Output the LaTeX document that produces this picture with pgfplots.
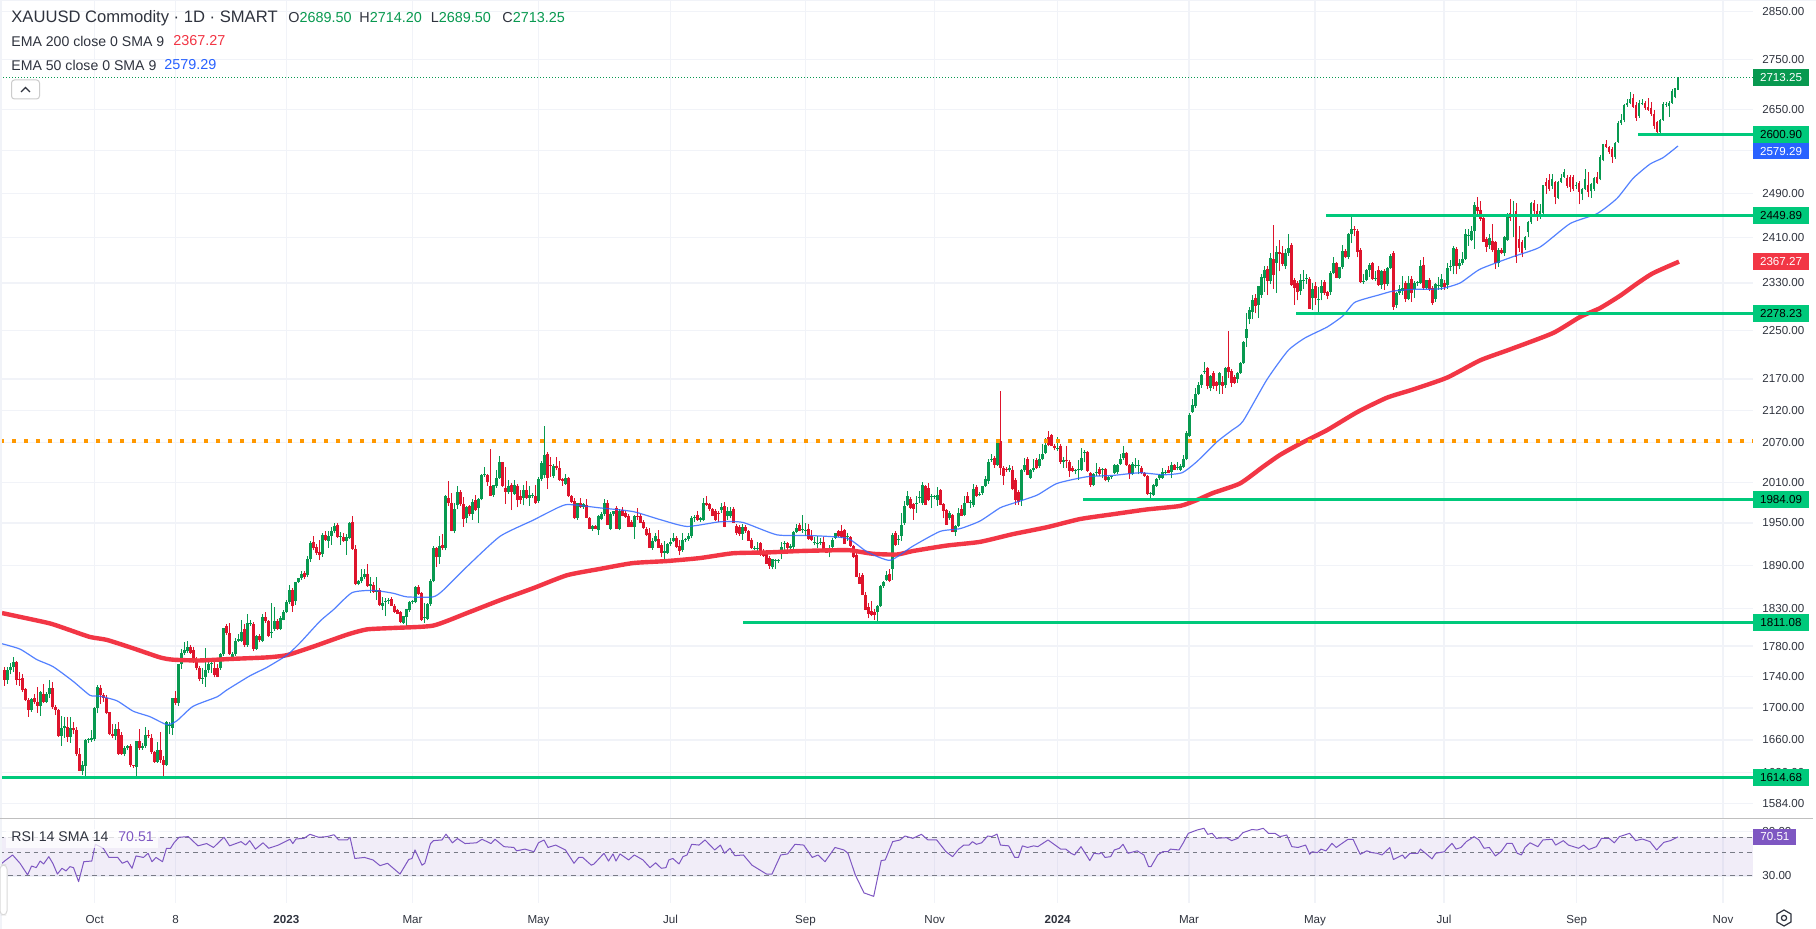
\documentclass[border=0pt]{standalone}
\usepackage{fontspec}
\setmainfont{Liberation Sans}
\usepackage{pgfplots}
\usepackage{pgfplotstable}
\pgfplotsset{compat=1.18}
\definecolor{cg}{HTML}{089950}
\definecolor{cr}{HTML}{DE142C}
\definecolor{ema2}{HTML}{F23645}
\definecolor{ema5}{HTML}{2962FF}
\definecolor{lev}{HTML}{00C97B}
\definecolor{org}{HTML}{FF9800}
\definecolor{gridc}{HTML}{F1F3F8}
\definecolor{txt}{HTML}{2F333E}
\definecolor{rsi}{HTML}{7E57C2}
\definecolor{dsh}{HTML}{787B86}

\pgfplotstableread{
o h l c
1748 1752 1728 1736
1736 1753 1731 1749
1749 1758 1743 1753
1753 1765 1746 1759
1759 1760 1729 1736
1737 1746 1728 1736
1738 1743 1720 1723
1724 1726 1709 1710
1710 1712 1689 1697
1697 1713 1695 1711
1712 1717 1705 1707
1708 1727 1694 1702
1702 1722 1690 1720
1718 1730 1706 1708
1708 1720 1706 1717
1717 1736 1713 1725
1725 1733 1699 1701
1701 1704 1691 1698
1698 1699 1664 1665
1665 1690 1653 1675
1675 1689 1663 1677
1676 1689 1658 1664
1664 1689 1657 1675
1675 1682 1668 1672
1672 1676 1641 1643
1643 1650 1622 1622
1622 1634 1618 1630
1628 1661 1616 1660
1660 1662 1657 1661
1660 1672 1658 1662
1661 1701 1659 1700
1700 1729 1693 1727
1726 1729 1705 1716
1716 1719 1708 1712
1713 1716 1692 1694
1695 1695 1666 1668
1668 1680 1662 1665
1665 1680 1660 1673
1673 1682 1642 1643
1666 1670 1642 1643
1643 1652 1640 1650
1650 1654 1648 1652
1653 1655 1627 1629
1629 1630 1626 1628
1627 1659 1616 1659
1659 1673 1648 1650
1650 1656 1648 1653
1653 1676 1650 1666
1666 1672 1662 1665
1663 1668 1643 1645
1645 1646 1632 1633
1633 1658 1632 1648
1648 1670 1632 1635
1636 1640 1616 1630
1629 1683 1628 1682
1677 1682 1667 1678
1675 1712 1666 1712
1712 1722 1704 1706
1706 1756 1702 1756
1756 1776 1750 1771
1771 1785 1768 1775
1774 1786 1771 1779
1779 1782 1770 1771
1775 1779 1758 1760
1760 1765 1748 1751
1751 1754 1734 1737
1737 1751 1731 1738
1740 1777 1727 1749
1749 1760 1745 1756
1756 1762 1745 1757
1751 1762 1739 1742
1751 1756 1739 1740
1751 1771 1749 1769
1769 1804 1767 1804
1806 1809 1795 1797
1797 1810 1768 1769
1766 1772 1764 1769
1769 1790 1767 1787
1787 1796 1785 1789
1787 1815 1785 1798
1802 1809 1779 1781
1781 1823 1779 1810
1810 1815 1807 1811
1809 1812 1773 1776
1776 1795 1775 1793
1793 1796 1785 1788
1787 1822 1785 1819
1819 1825 1811 1813
1813 1815 1792 1793
1798 1837 1790 1799
1803 1832 1800 1813
1813 1816 1801 1803
1803 1820 1801 1817
1815 1828 1814 1826
1826 1842 1824 1839
1839 1863 1836 1856
1856 1859 1826 1833
1840 1866 1835 1867
1867 1872 1865 1872
1872 1882 1870 1878
1879 1882 1871 1873
}\tA

\pgfplotstableread{
o h l c
1876 1903 1873 1898
1898 1925 1895 1921
1922 1932 1911 1914
1916 1920 1905 1908
1909 1926 1897 1904
1906 1936 1902 1933
1933 1939 1925 1926
1925 1938 1914 1932
1932 1944 1919 1938
1938 1950 1935 1946
1948 1950 1929 1930
1930 1937 1919 1931
1930 1936 1923 1924
1924 1934 1905 1930
1929 1951 1927 1950
1951 1960 1912 1913
1913 1919 1862 1864
1864 1870 1862 1868
1868 1885 1865 1874
1873 1884 1871 1877
1878 1892 1860 1861
1861 1873 1852 1864
1863 1866 1852 1853
1853 1873 1842 1856
1855 1858 1834 1835
1834 1846 1828 1837
1840 1844 1820 1841
1841 1844 1836 1842
1843 1846 1833 1834
1834 1836 1824 1825
1828 1830 1822 1823
1825 1827 1810 1812
1811 1820 1809 1820
1819 1830 1807 1830
1828 1841 1826 1839
1840 1842 1836 1841
1839 1861 1837 1860
1860 1863 1849 1850
1851 1853 1813 1814
1817 1837 1811 1818
1816 1838 1814 1836
1836 1871 1834 1868
}\tB

\pgfplotstableread{
o h l c
1868 1917 1866 1915
1914 1916 1888 1901
1901 1932 1892 1917
1919 1934 1912 1914
1914 1992 1911 1990
1987 2012 1975 1980
1980 1994 1938 1939
1939 1980 1935 1970
1976 2005 1970 1995
1995 1998 1975 1978
1978 1988 1945 1956
1958 1975 1950 1973
1975 1977 1960 1963
1963 1985 1955 1981
1983 1992 1968 1969
1972 1987 1950 1985
1985 2022 1983 2021
2021 2033 2018 2022
2021 2022 2005 2010
2004 2060 1990 1990
1991 2006 1988 2006
2004 2029 2002 2017
2017 2050 2015 2040
2040 2041 2003 2004
2002 2033 1978 1995
1995 2013 1993 2004
2006 2009 1969 1995
1993 2013 1991 2006
2005 2007 1973 1983
1990 1999 1978 1983
1987 2006 1976 1999
1998 2011 1985 1987
1987 2005 1975 1992
1990 1994 1986 1991
1990 2006 1978 1980
1982 2018 1980 2015
2015 2042 2012 2039
2021 2095 2017 2051
2052 2056 2000 2017
2036 2048 2018 2034
2020 2038 2016 2035
2035 2048 2028 2031
2031 2042 2012 2014
2015 2017 2005 2011
2008 2023 2006 2017
2017 2018 1988 1989
1990 1992 1980 1981
1982 1986 1956 1957
1957 1980 1955 1979
1979 1987 1972 1973
1973 1980 1971 1978
1977 1985 1957 1958
1958 1959 1941 1942
1942 1947 1939 1946
1946 1948 1941 1942
1940 1962 1933 1961
1956 1966 1954 1964
1964 1985 1961 1979
1979 1983 1948 1948
1942 1966 1940 1963
1963 1968 1961 1967
1972 1975 1942 1942
1942 1970 1940 1967
1969 1973 1960 1961
1965 1968 1958 1959
1961 1963 1944 1945
1952 1955 1944 1945
1945 1962 1927 1960
1961 1972 1955 1960
1961 1964 1950 1950
1951 1955 1942 1943
1941 1944 1931 1933
1935 1943 1915 1915
1915 1929 1912 1925
1925 1935 1922 1931
1927 1940 1914 1914
}\tC

\pgfplotstableread{
o h l c
1919 1921 1901 1908
1908 1924 1893 1910
1908 1921 1906 1920
1920 1929 1917 1922
1924 1935 1922 1929
1928 1931 1915 1916
1917 1926 1904 1910
1911 1935 1909 1926
1926 1929 1922 1927
1927 1935 1925 1931
1931 1960 1928 1958
1958 1962 1952 1959
1962 1968 1953 1955
1955 1959 1951 1957
1955 1986 1953 1980
1980 1990 1975 1977
1978 1980 1968 1970
1970 1972 1960 1961
1968 1970 1953 1954
1965 1968 1952 1964
1969 1980 1965 1973
1975 1981 1944 1944
1960 1973 1955 1967
1960 1973 1957 1967
1971 1973 1950 1950
1946 1949 1933 1935
1944 1948 1932 1934
1934 1949 1926 1944
1944 1947 1936 1938
1938 1940 1925 1925
1926 1928 1913 1914
1914 1917 1912 1915
1913 1923 1910 1914
1921 1923 1903 1905
1910 1913 1902 1903
1910 1912 1892 1892
1900 1903 1885 1889
1887 1899 1884 1898
1896 1899 1885 1897
1896 1898 1893 1897
1906 1922 1898 1916
1920 1925 1910 1921
1921 1923 1906 1914
1914 1920 1910 1917
1916 1938 1910 1937
1937 1949 1935 1943
1948 1950 1938 1939
1940 1962 1936 1941
1939 1950 1932 1940
1942 1949 1926 1927
1932 1940 1925 1926
1922 1930 1918 1923
1920 1931 1914 1921
1921 1929 1918 1922
1922 1930 1910 1911
1912 1914 1907 1908
1911 1918 1901 1912
1916 1928 1913 1926
1929 1936 1927 1935
1938 1940 1930 1931
1938 1947 1929 1930
1940 1942 1920 1920
1930 1936 1924 1931
1930 1932 1916 1917
1917 1919 1900 1901
1905 1908 1873 1873
1874 1879 1864 1864
1876 1879 1848 1848
1848 1853 1828 1828
1832 1838 1817 1823
1827 1841 1820 1821
1826 1829 1815 1821
1826 1835 1811 1834
1834 1862 1832 1861
1861 1868 1859 1866
1870 1882 1868 1876
1877 1885 1866 1868
1885 1935 1870 1933
1936 1938 1917 1919
}\tD

\pgfplotstableread{
o h l c
1926 1933 1919 1927
1931 1965 1925 1948
1950 1982 1948 1975
1977 1997 1975 1989
1985 1988 1971 1972
1978 1980 1955 1971
1978 1989 1965 1979
1987 1997 1980 1988
1979 2010 1977 2006
2004 2006 1976 1977
2001 2009 1982 1983
1988 1993 1972 1989
1989 1991 1985 1990
1984 2003 1975 1992
1998 2000 1976 1977
1978 1980 1957 1968
1969 1971 1948 1948
1957 1968 1955 1965
1962 1964 1937 1937
1937 1947 1932 1946
1946 1972 1944 1965
1970 1977 1961 1961
1962 1990 1960 1980
1989 1995 1979 1980
1980 1983 1972 1981
1977 2007 1974 2000
2003 2006 1988 1990
1992 1996 1989 1993
1994 2005 1992 2004
2005 2020 2003 2015
2011 2045 2008 2041
2044 2052 2041 2045
2047 2049 2032 2036
2036 2072 2034 2072
2072 2150 2021 2031
2031 2035 2006 2019
2030 2033 2026 2028
2028 2036 2026 2032
2029 2035 1998 2000
2013 2016 1977 1984
1996 1998 1977 1981
1984 2030 1975 2028
2028 2046 2026 2036
2045 2048 2021 2021
2017 2030 2015 2028
2028 2045 2026 2032
2043 2046 2030 2032
2034 2053 2032 2045
2045 2067 2043 2053
2054 2077 2052 2066
2078 2088 2064 2066
2081 2083 2064 2065
2065 2068 2058 2061
2061 2078 2057 2062
2065 2067 2038 2041
2041 2048 2031 2043
2044 2065 2031 2042
2041 2043 2018 2027
2031 2034 2026 2027
2027 2030 2022 2028
2028 2044 2014 2030
2029 2061 2027 2047
2054 2058 2040 2055
2055 2057 2026 2027
2024 2026 2003 2006
2006 2024 2004 2022
2024 2039 2020 2025
2030 2033 2020 2022
2029 2032 2016 2030
2030 2032 2011 2014
2013 2020 2010 2018
2018 2020 2015 2019
2024 2038 2022 2036
2025 2038 2023 2036
2038 2053 2036 2045
2046 2065 2044 2054
2054 2056 2035 2036
2036 2038 2015 2023
2023 2040 2021 2037
2035 2046 2032 2036
2035 2044 2022 2036
2032 2035 2022 2024
2024 2026 2018 2019
2019 2021 1992 1993
1993 1996 1983 1994
1991 2008 1990 2006
2005 2016 2003 2015
2016 2022 2014 2021
2017 2032 2015 2025
2025 2028 2022 2026
2028 2035 2024 2024
2026 2041 2016 2036
2036 2038 2029 2029
2032 2040 2028 2033
2029 2037 2027 2034
2033 2051 2031 2045
2045 2088 2043 2085
2080 2116 2078 2113
2118 2138 2116 2128
2126 2155 2124 2146
2146 2165 2144 2160
2160 2178 2156 2176
}\tE

\pgfplotstableread{
o h l c
2182 2197 2178 2183
2187 2190 2153 2158
2156 2177 2150 2175
2179 2182 2154 2158
2165 2167 2150 2158
2160 2181 2146 2179
2165 2175 2146 2158
2161 2190 2156 2187
2189 2248 2172 2181
2182 2186 2157 2164
2173 2176 2162 2164
2170 2181 2163 2180
2180 2198 2178 2196
2196 2232 2194 2231
2237 2278 2222 2252
2269 2289 2260 2283
2281 2310 2268 2300
2305 2311 2278 2290
2293 2325 2270 2324
2310 2345 2305 2340
2338 2360 2315 2352
2354 2360 2310 2333
2333 2382 2328 2373
2371 2432 2320 2344
2365 2395 2313 2384
2384 2405 2350 2381
2382 2395 2360 2363
2359 2390 2355 2382
2382 2417 2378 2391
2397 2400 2325 2327
2335 2338 2293 2321
2330 2333 2300 2315
2316 2345 2310 2335
2335 2353 2320 2336
2338 2346 2328 2339
2337 2340 2286 2286
2304 2330 2283 2320
2324 2332 2292 2304
2302 2323 2278 2303
2313 2335 2300 2325
2332 2335 2310 2313
2314 2316 2302 2308
2315 2350 2310 2347
2348 2375 2345 2365
2364 2367 2338 2339
2339 2358 2337 2358
2358 2397 2355 2386
2386 2390 2373 2376
2376 2418 2371 2416
2416 2450 2400 2426
2425 2430 2412 2424
2421 2425 2375 2384
2388 2392 2330 2331
2332 2345 2328 2333
2336 2355 2333 2353
2353 2365 2340 2362
2364 2367 2335 2337
2337 2350 2333 2338
2353 2360 2325 2327
2327 2353 2320 2351
2351 2354 2318 2328
2328 2358 2325 2356
2356 2380 2354 2378
2382 2386 2284 2289
2292 2315 2287 2312
2312 2326 2310 2319
2317 2343 2310 2321
2330 2333 2297 2303
2303 2342 2300 2330
2337 2342 2298 2313
2319 2333 2305 2330
2330 2333 2325 2331
2330 2370 2328 2360
2362 2375 2318 2322
2322 2336 2319 2336
2336 2338 2316 2319
2322 2325 2293 2296
2303 2330 2298 2328
2325 2340 2318 2326
2323 2345 2318 2337
2330 2335 2318 2323
2327 2365 2320 2356
2358 2370 2350 2359
2359 2395 2345 2391
2389 2393 2345 2359
2359 2372 2355 2365
2365 2385 2362 2372
2372 2425 2370 2416
2414 2425 2395 2415
2405 2430 2403 2422
2422 2475 2390 2469
2466 2484 2450 2457
2460 2476 2440 2444
2446 2450 2402 2402
2408 2410 2385 2393
2397 2417 2390 2409
2404 2435 2385 2388
2402 2404 2355 2364
2364 2392 2358 2388
2388 2392 2380 2382
2382 2412 2378 2411
2406 2455 2404 2451
}\tF

\pgfplotstableread{
o h l c
2455 2480 2440 2445
2449 2477 2410 2450
2457 2472 2365 2375
2408 2430 2385 2391
2402 2405 2375 2382
2391 2412 2388 2410
2420 2440 2410 2437
2437 2474 2435 2472
2472 2478 2450 2457
2457 2470 2440 2449
2447 2470 2443 2457
2454 2506 2452 2506
2512 2518 2490 2504
2515 2527 2495 2499
2504 2526 2498 2517
2512 2514 2470 2484
2482 2514 2480 2512
2512 2527 2510 2518
2521 2535 2519 2530
2518 2525 2500 2504
2521 2524 2493 2502
2521 2524 2495 2499
2505 2511 2498 2506
2509 2513 2470 2493
2490 2500 2478 2499
2499 2535 2497 2517
2506 2530 2483 2493
2494 2510 2482 2507
2499 2520 2495 2518
2520 2530 2508 2509
2517 2562 2515 2558
2553 2583 2550 2583
2583 2590 2575 2577
2577 2580 2565 2568
2574 2577 2547 2558
2558 2587 2555 2585
2587 2628 2585 2624
2624 2642 2620 2630
2630 2660 2625 2658
2658 2670 2656 2663
2663 2685 2660 2671
2673 2680 2654 2656
2658 2664 2628 2634
2637 2668 2634 2663
2662 2670 2658 2663
2663 2667 2650 2653
2656 2672 2648 2650
2653 2665 2637 2641
2642 2650 2612 2618
2625 2628 2605 2607
2607 2632 2602 2630
2630 2664 2628 2660
2660 2665 2655 2661
2657 2666 2636 2663
2663 2690 2661 2686
2675 2692 2672 2692
2689.5 2714.2 2689.5 2713.25
}\tG

\pgfplotstableread{
x y
2 1824
20 1819
50 1810
70 1801
90 1792
107 1788
133 1777
160 1765
173 1762
200 1761
233 1763
267 1765
287 1768
313 1779
347 1795
367 1802
393 1804
433 1807
467 1824
500 1841.5
533 1858
567 1876
600 1885
633 1893
667 1896
700 1900
733 1907
767 1908
800 1910
833 1911
850 1911
873 1906
897 1905
913 1910
947 1918
980 1923
1013 1934
1047 1944
1080 1956
1113 1963
1147 1970
1180 1975
1197 1984
1213 1994
1240 2008
1263 2033
1280 2051
1300 2068
1327 2089
1357 2117
1387 2140
1413 2153
1447 2172
1480 2200
1510 2218
1553 2245
1580 2272
1600 2287
1620 2308
1637 2329
1653 2347
1679 2367.27
}\emaA

\pgfplotstableread{
x y
2 1783
20 1776
37 1762
53 1753
73 1734
90 1716
100 1715
117 1709
133 1696
150 1689
167 1679
177 1684
193 1702
217 1714
227 1723
250 1741
267 1752
287 1768
300 1784
320 1813
333 1828
352 1852
373 1855
393 1851
407 1846
433 1846
443 1855
467 1888
500 1931
533 1954
550 1967
567 1977
600 1972
633 1967
660 1955
687 1945
720 1952
743 1951
777 1933
810 1932
847 1928
867 1909
890 1897
913 1917
940 1938
960 1942
980 1953
1000 1972
1013 1979
1037 1991
1057 2008
1087 2018
1113 2020
1140 2024
1163 2021
1182 2024
1197 2041
1217 2071
1232 2089
1243 2103
1267 2169
1288 2216
1305 2237
1327 2255
1343 2274
1355 2297
1380 2310
1393 2316
1413 2319
1440 2320
1460 2330
1480 2354
1513 2376
1540 2393
1570 2435
1597 2453
1617 2481
1633 2518
1650 2545
1663 2557
1678 2579.29
}\emaB

\pgfplotstableread{
x y
2 39.6
4.6 41.6
12.6 47.5
20 39.6
27.6 30.7
31.6 37.3
36.2 36
40.2 41.6
43.6 39
48.8 45.8
52.8 39.6
57.4 31.3
62 35.5
66 33.5
70 36.8
73.5 36
78.6 26.5
83.8 41
91.8 41.6
95.3 60
103.3 55
109 45
117.7 45
122.3 39.6
127.4 41.6
132 35.5
136 46.5
143.5 45
148 49.3
152 41
156 45
162.5 41
166.5 55
170.5 55
174 62
179 70
188.3 71
198 58
206.6 61
213.5 56
224 70
229.6 58
241 63.6
245.7 59
249.7 65
255.5 54
263 62
268.7 55
278.4 59
290 67
292.8 61
296 67.4
304 68.4
310 74.7
318.6 70
327 71
334 74
338.7 66
347.3 66
350 70
354.8 44
364.5 45
373 42.6
380 37.6
387.5 39.6
400 31.3
408.7 43
412 44
415 53
422 38
424.8 39.6
430.5 61
433.4 65
442 66
446 75
452.4 62
457.5 68
465 61
476.5 62
482 67
491 61
495 67
504 57
513.8 56
516.6 52
525 54
534 51
538.5 62
544 66
548 56
555.7 59
565.4 53
574 39.6
578.7 45
582.7 45
591.3 38
594 39
604 49.3
608.5 41.6
613 48.6
616 41.6
620 48.6
628.6 42.6
634.3 47.5
643 42.6
650 36
655.6 40
661.3 35.5
666 36
668.8 42.6
672.8 44
679 39
683 45.8
687 47.5
691.7 60
699 59
705 66
714.7 53
720.4 59
724.5 49.3
730 55
734.8 46.8
743.4 47.5
752 38
766.4 31.3
772 31.3
780.7 47.5
787.6 48.6
795 60
803.7 59
812.3 45
818 47.5
825 41
835 56
843.9 53
848 49.3
855.3 30.7
864 20.7
873.7 19.2
881.2 42
885.2 42.6
892.7 63.6
900 66
905 72
912.8 68.4
921.4 74.7
928 66
936.7 66
946 51
952.6 45.8
958.7 54
963.8 59
969 59
972.4 63.6
976.5 60
981.6 62
987.8 72
991.8 71
997 75
1000.5 59
1008.7 58
1014.8 45
1018.4 45
1022.4 58
1027.6 56
1033.7 58
1037.8 57
1048 66
1060.7 54
1065.8 54
1071 49.3
1074.5 47.5
1081 57
1089.8 42
1093.9 49.3
1099 48.6
1101.5 50
1105 45
1110.7 45.8
1114.3 53
1119.4 55
1123 60
1128 49.3
1137.2 52
1143.9 47.5
1148.5 36.8
1151 36.8
1157.7 47.5
1162.8 51
1167.9 51
1170.4 54
1179 53
1183 61.3
1188.3 76.3
1197 82
1204 85.2
1207.7 74.7
1212.2 76.3
1216.3 68.4
1226.5 69.4
1231.6 65
1237.8 68.4
1242.9 77.4
1252 83
1257 82
1263.3 85.2
1268.4 76.3
1275 76.3
1280 71
1286.7 73.6
1291.8 57
1298 56
1305.6 59
1309.7 48.2
1312.2 51
1317.3 50
1321 54
1326 52
1332 61.3
1336.2 56
1348 67
1353 67
1360.2 48.2
1366.8 52
1372 50
1377 49.3
1382 47.5
1389.8 56
1393.4 43
1402.5 47.5
1405 44
1410 49.3
1417.9 49.3
1420.4 54
1425.5 49.3
1432 43.6
1435.7 49.3
1444.4 51
1447 55
1452 61.3
1456 54
1461 56
1466.3 63.6
1474 71
1479 66
1484 55
1489.3 56
1495.4 46.5
1501 51
1507 61.3
1512.2 61.3
1517.3 49.3
1521.4 47.5
1525 56
1530 62
1537.8 57
1542.9 66
1552 67
1555.6 59
1563.3 65
1568.4 59
1578.6 55
1583.7 59
1588.8 53.5
1596.4 57
1601.5 68.4
1609 68.4
1614.3 62
1619.4 71
1629.6 76.3
1635.7 65
1642.3 67.4
1650 63.6
1656.6 53
1663.8 62.6
1670.4 65
1678 70.51
}\rsiT

% wicks and bodies of each table of candles, on the logarithmic price scale
\gdef\wickG{}\gdef\wickR{}\gdef\bodyG{}\gdef\bodyR{}
\newcommand\gatherseg[2]{%
 \pgfplotstablegetrowsof{#1}\edef\nrows{\pgfplotsretval}%
 \pgfmathtruncatemacro\lastrow{\nrows-1}%
 \foreach \ii in {0,...,\lastrow}{%
  \pgfplotstablegetelem{\ii}{o}\of{#1}\edef\vo{\pgfplotsretval}%
  \pgfplotstablegetelem{\ii}{h}\of{#1}\edef\vh{\pgfplotsretval}%
  \pgfplotstablegetelem{\ii}{l}\of{#1}\edef\vl{\pgfplotsretval}%
  \pgfplotstablegetelem{\ii}{c}\of{#1}\edef\vc{\pgfplotsretval}%
  \pgfmathsetmacro\xx{\ii*3+#2}%
  \pgfmathsetmacro\lo{ln(\vo)}\pgfmathsetmacro\lh{ln(\vh)}%
  \pgfmathsetmacro\ll{ln(\vl)}\pgfmathsetmacro\lc{ln(\vc)}%
  \ifdim\vc pt<\vo pt
   \xdef\wickR{\wickR(\xx,\ll)(\xx,\lh)(\xx,nan)}%
   \xdef\bodyR{\bodyR(\xx,\lo)(\xx,\lc)(\xx,nan)}%
  \else
   \xdef\wickG{\wickG(\xx,\ll)(\xx,\lh)(\xx,nan)}%
   \xdef\bodyG{\bodyG(\xx,\lo)(\xx,\lc)(\xx,nan)}%
  \fi
 }%
}
\newcommand\pricetag[4]{\node[fill=#2,text=#3,minimum width=28pt,minimum height=8.25pt,inner sep=0pt,font=\fontsize{5.8}{7}\selectfont] at (1781,{819*ln(2874.3/#1)/ln(2874.3/1565.4)}) {#4};}
\newcommand\hlevel[3]{\addplot[#1,no marks] table[row sep=\\,y expr=ln(\thisrow{y})] {x y\\ #2 #3\\ 1753 #3\\};}

\pgfplotsset{xauaxis/.style={
  scale only axis,xmin=0,xmax=1753,clip=false,
  xtick={94.7,175.7,286.4,412.5,538.5,670.5,805.4,934.7,1057.6,1189,1315,1444,1576.7,1723},
  axis line style={draw=none},major tick length=0pt,minor tick length=0pt,
  scaled y ticks=false,
  xmajorgrids,ymajorgrids,major grid style={draw=gridc,line width=.6pt},
  yticklabel pos=right,
  yticklabel style={anchor=west,inner sep=0pt,xshift=4.5pt,text=txt,font=\fontsize{5.8}{7}\selectfont},
  xticklabel style={text=txt,font=\fontsize{5.8}{7}\selectfont,inner sep=0pt,yshift=-6pt},
}}

\begin{document}
\begin{tikzpicture}
\useasboundingbox (0,0) rectangle (908pt,464.5pt);
\fill[white] (0,0) rectangle (908pt,464.5pt);
\gatherseg{\tA}{4.67}
\gatherseg{\tB}{307.3}
\gatherseg{\tC}{433.7}
\gatherseg{\tD}{661.7}
\gatherseg{\tE}{898.7}
\gatherseg{\tF}{1204.3}
\gatherseg{\tG}{1510.2}
\pgfmathsetmacro\tk{ln(1584)}\xdef\ylist{\tk}
\foreach \v in {1620,1660,1700,1740,1780,1830,1890,1950,2010,2070,2120,2170,2250,2330,2410,2490,2570,2650,2750,2850}{\pgfmathsetmacro\tk{ln(\v)}\xdef\ylist{\ylist,\tk}}

\begin{axis}[xauaxis,at={(0pt,55pt)},anchor=south west,width=876.5pt,height=409.5pt,
  ymin=7.3559,ymax=7.9636,xticklabels={},unbounded coords=jump,
  ytick=\ylist,
  yticklabels={1584.00,1620.00,1660.00,1700.00,1740.00,1780.00,1830.00,1890.00,1950.00,2010.00,2070.00,2120.00,2170.00,2250.00,2330.00,2410.00,2490.00,2570.00,2650.00,2750.00,2850.00}]
\edef\temp{\noexpand\addplot[cg,line width=.5pt,no marks] coordinates {\wickG};}\temp
\edef\temp{\noexpand\addplot[cr,line width=.5pt,no marks] coordinates {\wickR};}\temp
\edef\temp{\noexpand\addplot[cg,line width=1.25pt,no marks] coordinates {\bodyG};}\temp
\edef\temp{\noexpand\addplot[cr,line width=1.25pt,no marks] coordinates {\bodyR};}\temp
\addplot[ema2,line width=2.2pt,no marks,line join=round,smooth,tension=.35] table[y expr=ln(\thisrow{y})] {\emaA};
\addplot[ema5,line width=.6pt,no marks,opacity=.8,line join=round,smooth,tension=.35] table[y expr=ln(\thisrow{y})] {\emaB};
\hlevel{org,line width=2pt,dash pattern=on 2pt off 4pt}{0}{2072}
\hlevel{cg,line width=.5pt,dash pattern=on .5pt off 1pt}{0}{2713.25}
\hlevel{lev,line width=1.4pt}{0}{1614.68}
\hlevel{lev,line width=1.4pt}{743}{1811.08}
\hlevel{lev,line width=1.4pt}{1083}{1984.09}
\hlevel{lev,line width=1.4pt}{1296}{2278.23}
\hlevel{lev,line width=1.4pt}{1326}{2449.89}
\hlevel{lev,line width=1.4pt}{1638}{2600.90}
\end{axis}

\begin{axis}[xauaxis,at={(0pt,13pt)},anchor=south west,width=876.5pt,height=41.5pt,
  ymin=2.8094,ymax=4.6269,ytick={3.4012,4.3820},yticklabels={30.00,80.00},
  xticklabels={Oct,8,\textbf{2023},Mar,May,Jul,Sep,Nov,\textbf{2024},Mar,May,Jul,Sep,Nov}]
\fill[rsi,opacity=.1] (axis cs:0,3.4012) rectangle (axis cs:1753,4.2485);
\hlevel{dsh,line width=.5pt,dash pattern=on 2.2pt off 2pt}{0}{70}
\hlevel{dsh,line width=.5pt,dash pattern=on 2.2pt off 2pt}{0}{50}
\hlevel{dsh,line width=.5pt,dash pattern=on 2.2pt off 2pt}{0}{30}
\addplot[rsi,line width=.5pt,no marks,line join=round] table[y expr=ln(\thisrow{y})] {\rsiT};
\end{axis}

\begin{scope}[x=.5pt,y=-.5pt,shift={(0,464.5pt)}]
\pricetag{2713.25}{cg}{white}{2713.25}
\pricetag{2600.90}{lev}{black}{2600.90}
\pricetag{2569.6}{ema5}{white}{2579.29}
\pricetag{2449.89}{lev}{black}{2449.89}
\pricetag{2367.27}{ema2}{white}{2367.27}
\pricetag{2278.23}{lev}{black}{2278.23}
\pricetag{1984.09}{lev}{black}{1984.09}
\pricetag{1811.08}{lev}{black}{1811.08}
\pricetag{1614.68}{lev}{black}{1614.68}
\node[fill=rsi,text=white,minimum width=21.5pt,minimum height=8.25pt,inner sep=0pt,anchor=west,font=\fontsize{5.8}{7}\selectfont] at (1753,837) {70.51};
\fill[gridc] (0,0) rectangle (1816,1.5);
\fill[gridc] (0,0) rectangle (1.5,929);
\draw[draw=black!25,line width=.5pt] (0,819) -- (1813,819);
\node[anchor=west,inner sep=0pt,text=txt,font=\fontsize{8.3}{9.5}\selectfont] at (11,18) {XAUUSD Commodity · 1D · SMART};
\node[anchor=west,inner sep=0pt,text=txt,font=\fontsize{7.2}{8.5}\selectfont] at (288,18) {O\textcolor{cg}{2689.50}};
\node[anchor=west,inner sep=0pt,text=txt,font=\fontsize{7.2}{8.5}\selectfont] at (359,18) {H\textcolor{cg}{2714.20}};
\node[anchor=west,inner sep=0pt,text=txt,font=\fontsize{7.2}{8.5}\selectfont] at (430.5,18) {L\textcolor{cg}{2689.50}};
\node[anchor=west,inner sep=0pt,text=txt,font=\fontsize{7.2}{8.5}\selectfont] at (502,18) {C\textcolor{cg}{2713.25}};
\node[anchor=west,inner sep=0pt,text=txt,font=\fontsize{7.05}{8.5}\selectfont] at (11,41) {EMA 200 close 0 SMA 9};
\node[anchor=west,inner sep=0pt,text=ema2,font=\fontsize{7.2}{8.5}\selectfont] at (173,41) {2367.27};
\node[anchor=west,inner sep=0pt,text=txt,font=\fontsize{7.05}{8.5}\selectfont] at (11,65) {EMA 50 close 0 SMA 9};
\node[anchor=west,inner sep=0pt,text=ema5,font=\fontsize{7.2}{8.5}\selectfont] at (164,65) {2579.29};
\draw[draw=black!20,fill=white,rounded corners=1.5pt,line width=.5pt] (11.5,80) rectangle (39.5,99);
\draw[txt,line width=.6pt] (21,92) -- (25.5,87.5) -- (30,92);
\fill[white,opacity=.75] (6,829) rectangle (158,848);
\node[anchor=west,inner sep=0pt,text=txt,font=\fontsize{7.05}{8.5}\selectfont] at (11,837) {RSI 14 SMA 14};
\node[anchor=west,inner sep=0pt,text=rsi,font=\fontsize{7.05}{8.5}\selectfont] at (118,837) {70.51};
\draw[draw=black!15,fill=white,rounded corners=2pt,line width=.5pt] (0,865) rectangle (7,915);
\draw[txt,line width=.6pt] (1784,910) -- (1791,914) -- (1791,922) -- (1784,926) -- (1777,922) -- (1777,914) -- cycle;
\draw[txt,line width=.6pt] (1784,918) circle[radius=1.3pt];
\end{scope}
\end{tikzpicture}
\end{document}
